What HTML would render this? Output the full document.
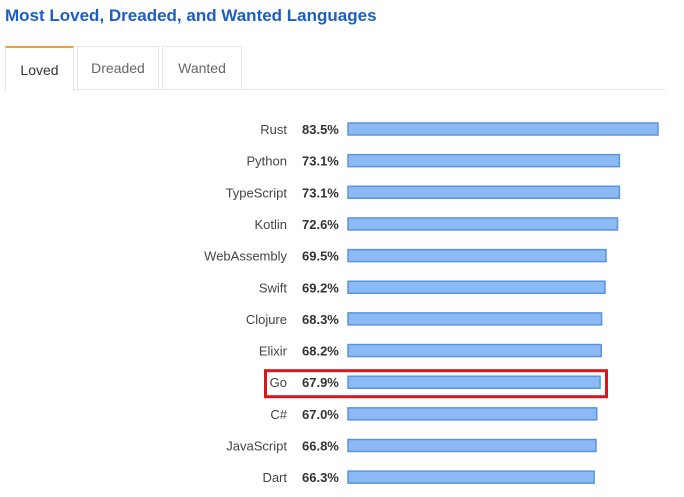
<!DOCTYPE html>
<html><head><meta charset="utf-8"><style>
body{margin:0;width:684px;height:497px;background:#fff;font-family:"Liberation Sans",sans-serif;position:relative;overflow:hidden}
.title{position:absolute;left:5px;top:6px;font-size:17px;font-weight:bold;color:#1d5fbf}
.tab{position:absolute;top:46px;height:43px;border:1px solid #e6e6e6;border-bottom:none;font-size:14px;color:#666;display:flex;align-items:center;justify-content:center;box-sizing:border-box;background:#fff}
.line{position:absolute;left:5px;top:89px;width:660px;height:1px;background:#e6e6e6}
svg{position:absolute;left:0;top:0}
</style></head><body>
<div class="title">Most Loved, Dreaded, and Wanted Languages</div>
<div class="line"></div>
<div class="tab" style="left:5px;width:69px;height:45px;border-top:2px solid #e8a33d;color:#333">Loved</div>
<div class="tab" style="left:77px;width:82px">Dreaded</div>
<div class="tab" style="left:162px;width:80px">Wanted</div>
<svg id="chart" width="684" height="497"></svg>
<script>
const categories=["Rust","Python","TypeScript","Kotlin","WebAssembly","Swift","Clojure","Elixir","Go","C#","JavaScript","Dart"];
const values=[83.5,73.1,73.1,72.6,69.5,69.2,68.3,68.2,67.9,67.0,66.8,66.3];
const labels=["83.5%","73.1%","73.1%","72.6%","69.5%","69.2%","68.3%","68.2%","67.9%","67.0%","66.8%","66.3%"];
const highlight="Go";
const NS="http://www.w3.org/2000/svg";
const svg=document.getElementById('chart');
const x0=348, pxPer=310/83.5;
const xScale=v=>v*pxPer;
const yScale=i=>129+i*31.65;
function mk(t,a){const e=document.createElementNS(NS,t);for(const k in a)e.setAttribute(k,a[k]);svg.appendChild(e);return e;}
categories.forEach((c,i)=>{
  const y=yScale(i);
  if(c===highlight){
    const r=mk('rect',{x:265.5,y:y-11.5,width:341,height:26,fill:'none',stroke:'#d9161c','stroke-width':3});
    
    
  }
  const t=mk('text',{x:287,y:y+5,'text-anchor':'end','font-size':13,fill:'#444'});
  t.textContent=c;
  
  
  const v=mk('text',{x:302,y:y+5,'font-size':13,'font-weight':'bold',fill:'#333'});
  v.textContent=labels[i];
  
  
  const b=mk('rect',{x:x0,y:y-6,width:xScale(values[i]),height:12,fill:'#8bbaf5',stroke:'#5b93de','stroke-width':1.5});
  
  
});
</script>
</body></html>
